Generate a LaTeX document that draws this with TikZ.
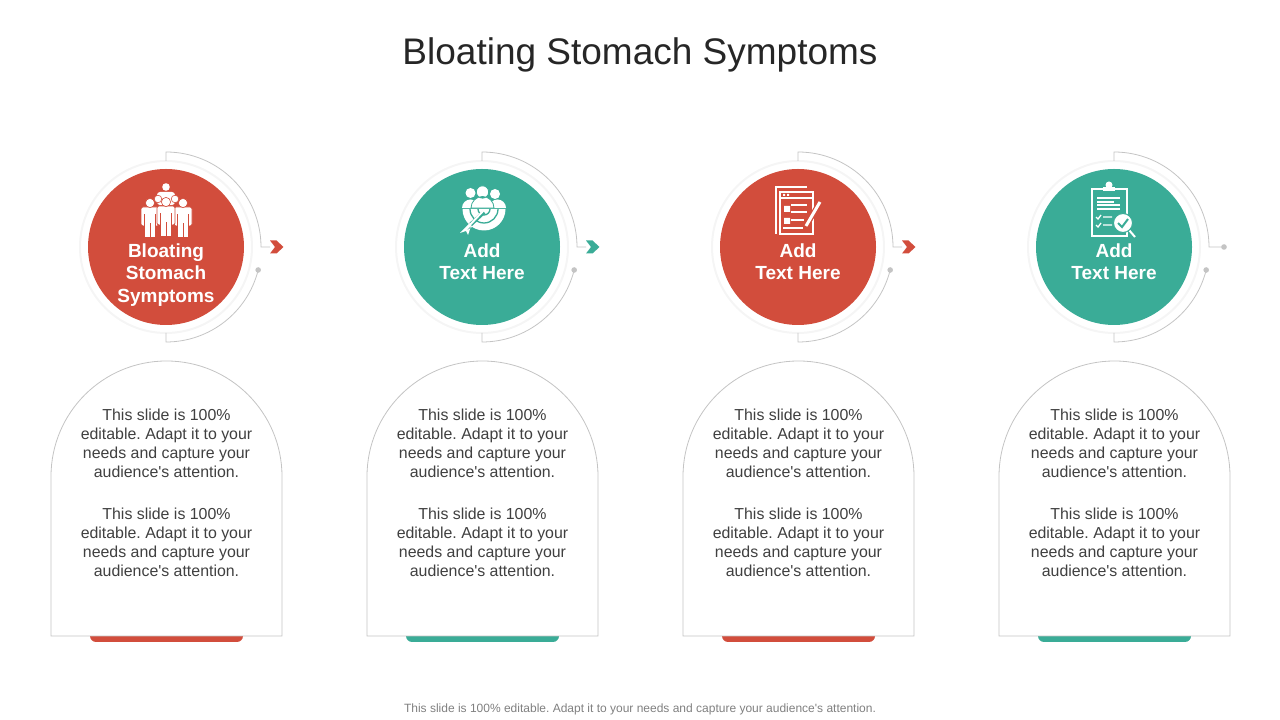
\documentclass[tikz,border=0pt]{standalone}
\usepackage{fontspec}
\setmainfont{Liberation Sans}[Ligatures=TeXOff]
\frenchspacing
\definecolor{stageRed}{HTML}{D24D3C}
\definecolor{stageTeal}{HTML}{3AAC97}
\definecolor{hairGray}{HTML}{C4C4C4}
\definecolor{ringGray}{HTML}{F5F5F5}
\definecolor{bodyGray}{HTML}{404040}
\tikzset{
  hair/.style={draw=hairGray,line width=0.8pt},
  disc/.style={circle,inner sep=0pt,minimum size=156pt},
  heading/.style={text=white,font=\fontsize{19}{22.5}\selectfont\bfseries,align=center,inner sep=0pt},
  blurb/.style={text=bodyGray,font=\fontsize{15.9}{19}\selectfont,align=center,inner sep=0pt},
}
\begin{document}
\begin{tikzpicture}[x=1pt,y=1pt]
\useasboundingbox (0,0) rectangle (1280,720);
% Parameters
\def\ringRadius{86};
\def\arcRadius{95};
\def\blurbText{This slide is 100\%\\editable. Adapt it to your\\needs and capture your\\audience's attention.}

% Ends of the upper arc
\def\tipChevron#1{\fill[#1] (104,6.5) -- (110.5,6.5) -- (117.5,0) -- (110.5,-6.5) -- (104,-6.5) -- (109,0) -- cycle;}
\def\tipDot#1{\fill[hairGray] (110,0) circle (2.8);}

% Icons
\def\person#1#2#3{
  \fill[white,draw=#3,line width=0.8pt,rounded corners=2pt] (#1-9,#2-18) rectangle (#1+9,#2+1);
  \fill[white] (#1-5,#2-29) rectangle (#1+5,#2);
  \draw[#3,line width=1pt] (#1-5.5,#2-18) -- (#1-5.5,#2-6) (#1+5.5,#2-18) -- (#1+5.5,#2-6) (#1,#2-29) -- (#1,#2-15);
  \fill[white,draw=#3,line width=0.6pt] (#1,#2+5) circle (4.6);
}
\def\iconPeople#1{
  \fill[white] (0,60) circle (3.8);
  \fill[white,rounded corners=3pt] (-9,42) rectangle (9,55);
  \fill[white,draw=#1,line width=0.6pt] (-8,48) circle (3.8) (9,48) circle (3.8);
  \person{-16}{39}{#1}
  \person{17}{39}{#1}
  \person{0}{40}{#1}
}
\def\iconTarget#1{
  \fill[white] (-11.5,54) circle (5) (13,53) circle (5);
  \fill[white] (-20,39) arc(180:0:8.5) -- cycle (7,39) arc(180:0:8.5) -- cycle;
  \fill[white,draw=#1,line width=0.8pt] (0.5,55) circle (6.2) (-11,39) arc(180:0:11.5) -- cycle;
  \fill[white] (-19.5,38) arc(180:360:21.5) -- cycle;
  \draw[#1,line width=1.3pt] (-12,38) arc(180:360:14) (-4,38) arc(180:360:6);
  \draw[#1,line width=4pt] (2,35) -- (-15,19);
  \draw[white,line width=2pt] (2,37) -- (-15,19);
  \fill[white] (-22,14) -- (-16,16) -- (-10,20) -- (-12,24) -- (-17,19) -- cycle (-14,12) -- (-16,16) -- (-11,21) -- cycle;
}
\def\iconPages#1{
  \draw[white,line width=2pt] (-22,13) -- (-22,60) -- (9,60);
  \fill[#1,draw=white,line width=2pt] (-18,55) rectangle (15,13);
  \draw[white,line width=1.6pt] (-18,49) -- (15,49) (-7,42) -- (9,42) (-7,35) -- (9,35) (-7,27) -- (6,27) (-15,19) -- (5,19);
  \fill[white] (-15,53) rectangle (-13,51) (-11,53) rectangle (-9,51) (-14,41) rectangle (-8,35) (-14,29) rectangle (-8,23);
  \draw[#1,line width=5.5pt] (22,45) -- (7,19);
  \draw[white,line width=3pt] (22,45) -- (8,21);
}
\def\iconBoard#1{
  \draw[white,line width=2pt] (-22,58) rectangle (13,11);
  \fill[white] (-11,56) rectangle (1,60);
  \fill[white] (-5,62) circle (3.5);
  \draw[white,line width=1.3pt] (-17,49) -- (6,49) (-17,45) -- (0,45) (-17,42) -- (6,42) (-17,38) -- (6,38);
  \draw[white,line width=1.3pt] (-18,30) -- (-16,28) -- (-13,32) (-11,30) -- (-2,30) (-18,22) -- (-16,20) -- (-13,24) (-11,22) -- (-2,22);
  \draw[white,line width=2pt] (15,17) -- (21,10);
  \fill[white,draw=#1,line width=1pt] (9,24) circle (9.5);
  \draw[#1,line width=2pt] (4,24) -- (8,20) -- (14,28);
}

% One stage: name, centre, colour, icon, heading, heading top, tip, tip end
\def\stage#1#2#3#4#5#6#7#8{
  \begin{scope}[shift={(#2,473)}]
    % Tab and arch
    \fill[#3,rounded corners=6pt] (-76,-380) rectangle (77,-395);
    \fill[white] (-115,-389) -- (-115,-229.5) arc(180:0:115.5) -- (116,-389) -- cycle;
    \draw[hair] (-115,-389) -- (-115,-229.5) arc(180:0:115.5) -- (116,-389) -- cycle;
    \node[blurb] (#1top) at (0.5,-196.5) {\blurbText};
    \node[blurb] (#1low) at (0.5,-295.5) {\blurbText};
    % Disc
    \draw[ringGray,line width=2pt] (0,0) circle (\ringRadius);
    \node[disc,fill=#3] (#1disc) at (0,0) {};
    #4{#3}
    \node[heading,anchor=north] (#1head) at (0,#6) {#5};
    % Arcs
    \coordinate (#1start) at (0,\ringRadius);
    \coordinate (#1stop) at (0,-\ringRadius);
    \coordinate (#1dot) at (-14:\arcRadius);
    \coordinate (#1tip) at (#8,0);
    \draw[hair] (#1start) -- (0,\arcRadius) arc(90:0:\arcRadius) -- (#1tip);
    \draw[hair] (#1dot) arc(-14:-90:\arcRadius) -- (#1stop);
    \fill[hairGray] (#1dot) circle (2.8);
    #7{#3}
  \end{scope}
}

% Title
\node[text=black!85,font=\fontsize{37}{40}\selectfont,inner sep=0pt] (title) at (640,665.5) {Bloating Stomach Symptoms};

% Stages
\stage{bloat}{166}{stageRed}{\iconPeople}{Bloating\\Stomach\\Symptoms}{3.5}{\tipChevron}{104}
\stage{team}{482}{stageTeal}{\iconTarget}{Add\\Text Here}{3.5}{\tipChevron}{104}
\stage{pages}{798}{stageRed}{\iconPages}{Add\\Text Here}{3.5}{\tipChevron}{104}
\stage{board}{1114}{stageTeal}{\iconBoard}{Add\\Text Here}{3.5}{\tipDot}{110}

% Footer
\node[text=black!50,font=\fontsize{12}{14}\selectfont,inner sep=0pt] (footer) at (640,11) {This slide is 100\% editable. Adapt it to your needs and capture your audience's attention.};

\end{tikzpicture}
\end{document}
